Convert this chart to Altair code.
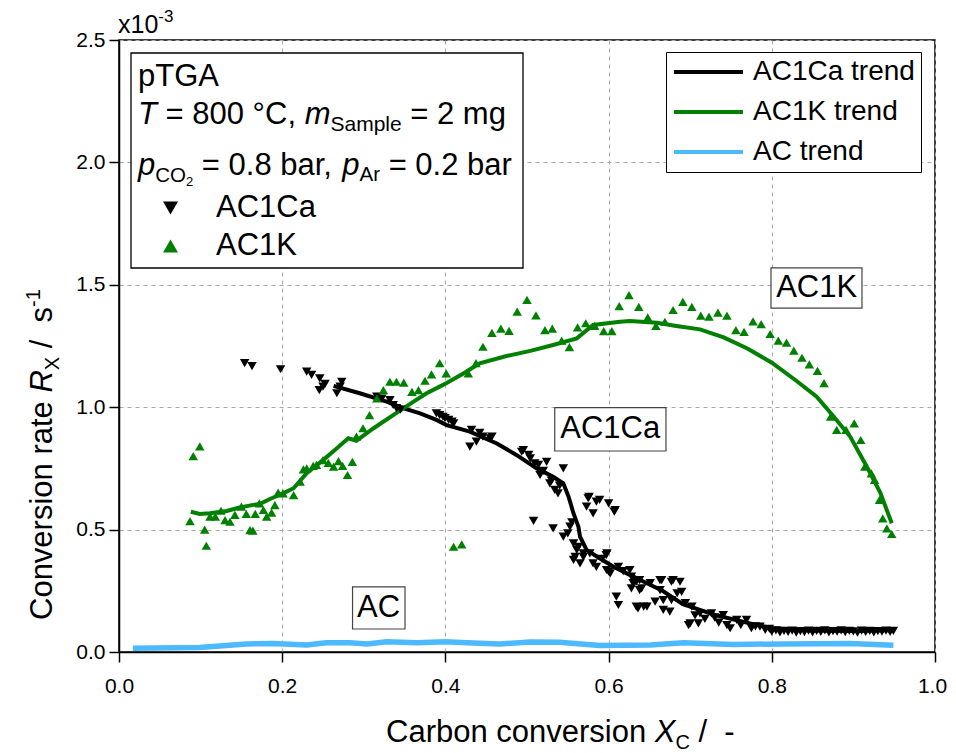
import altair as alt
import pandas as pd

# ---------------- data ----------------
k_x = [0.087, 0.091, 0.099, 0.105, 0.107, 0.1115, 0.118, 0.125, 0.130, 0.136, 0.142, 0.150, 0.156, 0.1605,
       0.164, 0.167, 0.172, 0.177, 0.181, 0.187, 0.191, 0.195, 0.201, 0.214, 0.222, 0.226, 0.230, 0.238,
       0.242, 0.250, 0.2565, 0.263, 0.269, 0.274, 0.280, 0.286, 0.291, 0.299, 0.307, 0.316, 0.324, 0.332,
       0.340, 0.349, 0.359, 0.367, 0.375, 0.383, 0.393, 0.401, 0.410, 0.420, 0.428, 0.4375, 0.446, 0.457,
       0.468, 0.478, 0.488, 0.500, 0.511, 0.522, 0.531, 0.5425, 0.552, 0.562, 0.572, 0.583, 0.594, 0.604,
       0.613, 0.625, 0.637, 0.648, 0.658, 0.669, 0.679, 0.691, 0.702, 0.713, 0.723, 0.734, 0.745, 0.756,
       0.766, 0.777, 0.787, 0.798, 0.808, 0.818, 0.827, 0.837, 0.846, 0.856, 0.864, 0.872, 0.8795, 0.891,
       0.901, 0.909, 0.914, 0.922, 0.926, 0.932, 0.936, 0.941, 0.947]
k_y = [0.535, 0.800, 0.840, 0.500, 0.434, 0.553, 0.553, 0.577, 0.539, 0.532, 0.560, 0.594, 0.564, 0.498,
       0.496, 0.564, 0.607, 0.580, 0.553, 0.569, 0.600, 0.651, 0.648, 0.641, 0.696, 0.746, 0.750, 0.760,
       0.764, 0.784, 0.773, 0.757, 0.780, 0.760, 0.723, 0.777, 0.880, 0.914, 0.968, 1.036, 1.070, 1.104,
       1.104, 1.100, 1.063, 1.070, 1.108, 1.134, 1.180, 1.138, 0.430, 0.440, 1.138, 1.180, 1.247, 1.304,
       1.321, 1.312, 1.390, 1.438, 1.375, 1.315, 1.321, 1.272, 1.245, 1.326, 1.343, 1.332, 1.311, 1.311,
       1.413, 1.458, 1.410, 1.367, 1.332, 1.349, 1.397, 1.430, 1.410, 1.374, 1.370, 1.386, 1.374, 1.315,
       1.308, 1.351, 1.339, 1.299, 1.272, 1.264, 1.231, 1.202, 1.175, 1.148, 1.098, 0.961, 0.907, 0.907,
       0.934, 0.866, 0.757, 0.730, 0.703, 0.621, 0.546, 0.505, 0.482]

ca_x = [0.154, 0.163, 0.198, 0.230, 0.236, 0.2455, 0.246, 0.250, 0.2525, 0.267, 0.271, 0.273, 0.316, 0.322,
        0.332, 0.336, 0.340, 0.345, 0.389, 0.393, 0.397, 0.3995, 0.404, 0.408, 0.410, 0.430, 0.432, 0.438,
        0.442, 0.446, 0.455, 0.457, 0.4935, 0.4955, 0.502, 0.504, 0.508, 0.5095, 0.514, 0.516, 0.520, 0.524,
        0.528, 0.530, 0.532, 0.534, 0.538, 0.540, 0.5445, 0.5445, 0.550, 0.5527, 0.555, 0.557, 0.557, 0.559,
        0.561, 0.563, 0.565, 0.569, 0.569, 0.573, 0.575, 0.576, 0.577, 0.581, 0.581, 0.585, 0.585, 0.589,
        0.592, 0.597, 0.5975, 0.598, 0.600, 0.600, 0.602, 0.607, 0.608, 0.6095, 0.612, 0.612, 0.618, 0.626,
        0.628, 0.628, 0.630, 0.634, 0.634, 0.636, 0.638, 0.638, 0.6405, 0.643, 0.647, 0.651, 0.657, 0.663,
        0.663, 0.665, 0.667, 0.667, 0.675, 0.677, 0.677, 0.679, 0.684, 0.6875, 0.6895, 0.694, 0.698, 0.700,
        0.702, 0.706, 0.710, 0.712, 0.718, 0.726, 0.730, 0.735, 0.7405, 0.745, 0.749, 0.757, 0.762, 0.769,
        0.775, 0.780, 0.7855, 0.792, 0.797, 0.800, 0.805, 0.810, 0.815, 0.820, 0.825, 0.830, 0.835, 0.840,
        0.845, 0.850, 0.855, 0.860, 0.865, 0.870, 0.875, 0.880, 0.885, 0.890, 0.895, 0.900, 0.905, 0.910,
        0.915, 0.920, 0.925, 0.930, 0.935, 0.940, 0.945, 0.949]
ca_y = [1.180, 1.168, 1.155, 1.145, 1.132, 1.070, 1.118, 1.084, 1.095, 1.057, 1.084, 1.104, 1.043, 1.035,
        1.029, 1.009, 0.996, 0.990, 0.975, 0.968, 0.961, 0.955, 0.948, 0.941, 0.934, 0.839, 0.907, 0.859,
        0.895, 0.880, 0.873, 0.880, 0.818, 0.825, 0.805, 0.791, 0.536, 0.771, 0.764, 0.723, 0.740, 0.777,
        0.689, 0.700, 0.505, 0.662, 0.648, 0.680, 0.750, 0.471, 0.485, 0.512, 0.530, 0.444, 0.376, 0.389,
        0.417, 0.430, 0.362, 0.403, 0.389, 0.594, 0.628, 0.634, 0.403, 0.566, 0.362, 0.348, 0.614, 0.621,
        0.380, 0.396, 0.335, 0.403, 0.607, 0.328, 0.321, 0.573, 0.580, 0.226, 0.348, 0.192, 0.330, 0.335,
        0.308, 0.260, 0.281, 0.287, 0.185, 0.178, 0.253, 0.294, 0.260, 0.185, 0.185, 0.281, 0.206, 0.294,
        0.253, 0.294, 0.212, 0.172, 0.165, 0.287, 0.212, 0.294, 0.240, 0.287, 0.246, 0.200, 0.110, 0.117,
        0.185, 0.150, 0.117, 0.158, 0.135, 0.158, 0.140, 0.120, 0.151, 0.110, 0.097, 0.131, 0.110, 0.131,
        0.097, 0.105, 0.104, 0.090, 0.095, 0.083, 0.088, 0.080, 0.086, 0.082, 0.087, 0.079, 0.085, 0.081,
        0.087, 0.080, 0.086, 0.082, 0.088, 0.080, 0.085, 0.083, 0.088, 0.081, 0.086, 0.084, 0.079, 0.087,
        0.082, 0.086, 0.080, 0.085, 0.083, 0.087, 0.082, 0.086]

ca_trend_x = [0.263, 0.295, 0.328, 0.348, 0.369, 0.389, 0.4015, 0.430, 0.463, 0.487, 0.512, 0.532, 0.5445,
              0.551, 0.557, 0.563, 0.565, 0.573, 0.589, 0.606, 0.626, 0.647, 0.666, 0.691, 0.732, 0.773,
              0.800, 0.850, 0.900, 0.949]
ca_trend_y = [1.087, 1.057, 1.023, 0.996, 0.975, 0.948, 0.927, 0.900, 0.852, 0.805, 0.750, 0.716, 0.689,
              0.634, 0.566, 0.512, 0.471, 0.417, 0.383, 0.348, 0.315, 0.281, 0.250, 0.195, 0.150, 0.117,
              0.097, 0.088, 0.086, 0.090]

k_trend_x = [0.088, 0.099, 0.1115, 0.132, 0.148, 0.163, 0.173, 0.185, 0.201, 0.214, 0.230, 0.250, 0.267,
             0.281, 0.291, 0.312, 0.336, 0.361, 0.377, 0.393, 0.401, 0.422, 0.442, 0.475, 0.504, 0.532,
             0.561, 0.581, 0.614, 0.626, 0.659, 0.683, 0.712, 0.741, 0.770, 0.800, 0.830, 0.855, 0.875,
             0.896, 0.916, 0.933, 0.947]
k_trend_y = [0.573, 0.564, 0.567, 0.576, 0.590, 0.600, 0.605, 0.625, 0.648, 0.669, 0.730, 0.784, 0.832,
             0.873, 0.863, 0.914, 0.968, 1.023, 1.057, 1.084, 1.098, 1.138, 1.179, 1.209, 1.230, 1.254,
             1.281, 1.336, 1.349, 1.352, 1.345, 1.332, 1.318, 1.285, 1.240, 1.182, 1.108, 1.043, 0.965,
             0.880, 0.760, 0.650, 0.526]

ac_trend_x = [0.017, 0.099, 0.156, 0.189, 0.230, 0.254, 0.283, 0.304, 0.328, 0.365, 0.400, 0.426, 0.467,
              0.504, 0.540, 0.589, 0.651, 0.692, 0.753, 0.814, 0.896, 0.949]
ac_trend_y = [0.015, 0.018, 0.033, 0.035, 0.029, 0.038, 0.038, 0.033, 0.042, 0.038, 0.042, 0.038, 0.033,
              0.041, 0.040, 0.027, 0.029, 0.038, 0.031, 0.033, 0.035, 0.028]

series_names = ["AC1Ca trend", "AC1K trend", "AC trend"]
sample_names = ["AC1Ca", "AC1K"]
x_ticks = [0.0, 0.2, 0.4, 0.6, 0.8, 1.0]
y_ticks = [0.0, 0.5, 1.0, 1.5, 2.0, 2.5]

label_text = ["AC1K", "AC1Ca", "AC"]
label_x = [0.855, 0.602, 0.318]
label_y = [1.487, 0.910, 0.180]
label_x1 = [0.799, 0.534, 0.2862]
label_x2 = [0.9105, 0.6703, 0.3505]
label_y1 = [1.405, 0.821, 0.094]
label_y2 = [1.569, 0.998, 0.266]

# ---------------- styling ----------------
FONT = "Liberation Sans"
W, H = 816, 612
OX, OY = 119, 40  # page position of plot area
GREEN = "#008000"
BLUE = "#4DB9FF"

AW = {' ': 278, '-': 333, '.': 278, '/': 278, '=': 584, '°': 400, ',': 278,
      'A': 667, 'C': 722, 'G': 778, 'K': 667, 'O': 778, 'R': 722, 'S': 667, 'T': 611, 'X': 667,
      'a': 556, 'b': 556, 'c': 500, 'd': 556, 'e': 556, 'g': 556, 'i': 222, 'l': 222, 'm': 833,
      'n': 556, 'o': 556, 'p': 556, 'r': 333, 's': 500, 't': 278, 'v': 500, 'x': 500}


def tw(s, size):
    return sum(AW.get(c, 556) for c in s) * size / 1000.0


def txt(s, x, y, size, italic=False, angle=0, align="left", baseline="alphabetic"):
    kw = dict(text=s, font=FONT, fontSize=size,
              fontStyle="italic" if italic else "normal",
              align=align, baseline=baseline, color="black")
    if angle:
        kw["angle"] = angle
    return alt.Chart(alt.Data(values=[{}])).mark_text(**kw).encode(
        x=alt.value(x - OX), y=alt.value(y - OY))


def run(pieces, x0, y0, rotate=False):
    """Lay out rich-text pieces word by word, so every blank keeps its width."""
    out = []
    pos = 0.0
    for s, size, italic, shift in pieces:
        word = ""
        for ch in s + " ":
            if ch == " ":
                if word:
                    if rotate:
                        out.append(txt(word, x0 + shift, y0 - pos, size, italic, angle=270))
                    else:
                        out.append(txt(word, x0 + pos, y0 + shift, size, italic))
                    pos += tw(word, size)
                    word = ""
                pos += tw(" ", size)
            else:
                word += ch
        pos -= tw(" ", size)
    return out


xs = alt.Scale(domain=[0, 1], nice=False, zero=False)
ys = alt.Scale(domain=[0, 2.5], nice=False, zero=False)

x_axis = alt.Axis(values=x_ticks, format=".1f", title=None, labelPadding=13,
                  labelOffset={"condition": {"test": "datum.value == 1", "value": -3}, "value": 0})
y_axis = alt.Axis(values=y_ticks, format=".1f", title=None, labelPadding=4)


def X(field):
    return alt.X(field, scale=xs, axis=x_axis)


def Y(field):
    return alt.Y(field, scale=ys, axis=y_axis)


# ---------------- data frames ----------------
pts = pd.concat([
    pd.DataFrame({"x": ca_x, "y": ca_y, "sample": sample_names[0]}),
    pd.DataFrame({"x": k_x, "y": k_y, "sample": sample_names[1]}),
], ignore_index=True)

trend_main = pd.concat([
    pd.DataFrame({"x": ca_trend_x, "y": ca_trend_y, "series": series_names[0]}),
    pd.DataFrame({"x": k_trend_x, "y": k_trend_y, "series": series_names[1]}),
], ignore_index=True)
trend_main["o"] = range(len(trend_main))
trend_ac = pd.DataFrame({"x": ac_trend_x, "y": ac_trend_y, "series": series_names[2]})
trend_ac["o"] = range(len(trend_ac))

labels = pd.DataFrame({"t": label_text, "x": label_x, "y": label_y, "x1": label_x1, "x2": label_x2,
                       "y1": label_y1, "y2": label_y2})

stroke_scale = alt.Scale(domain=series_names, range=["#000000", GREEN, BLUE])
line_legend = alt.Legend(title=None, orient="none", legendX=547, legendY=12, padding=6,
                         strokeColor="black", fillColor="white", cornerRadius=0,
                         labelFont=FONT, labelFontSize=28, labelColor="black", labelOffset=8,
                         symbolType="stroke", symbolSize=4761, symbolStrokeWidth=4, clipHeight=28,
                         rowPadding=12, labelLimit=400)

fill_scale = alt.Scale(domain=sample_names, range=["#000000", GREEN])
shape_scale = alt.Scale(domain=sample_names, range=["triangle-down", "triangle-up"])
pt_legend = alt.Legend(title=None, orient="none", legendX=36, legendY=153, padding=0,
                       labelFont=FONT, labelFontSize=31, labelColor="black", labelOffset=30,
                       symbolSize=225, symbolStrokeWidth=0, clipHeight=30, rowPadding=7,
                       symbolOpacity=1, labelLimit=400)

# ---------------- layers ----------------
box = alt.Chart(alt.Data(values=[{}])).mark_rect(fill="white", stroke="black", strokeWidth=1.3).encode(
    x=alt.value(131 - OX), x2=alt.value(523 - OX), y=alt.value(53 - OY), y2=alt.value(268 - OY))

lab_rect = alt.Chart(labels).mark_rect(fill="white", stroke="#444444", strokeWidth=1.2).encode(
    x=X("x1:Q"), x2="x2:Q", y=Y("y1:Q"), y2="y2:Q")
lab_text = alt.Chart(labels).mark_text(font=FONT, fontSize=31, color="black", baseline="middle",
                                       align="center").encode(
    x=X("x:Q"), y=Y("y:Q"), text="t:N")

lines = alt.Chart(trend_main).mark_line(strokeWidth=4).encode(
    x=X("x:Q"), y=Y("y:Q"), order="o:Q",
    stroke=alt.Stroke("series:N", scale=stroke_scale, legend=line_legend))
ac_line = alt.Chart(trend_ac).mark_line(strokeWidth=5.5).encode(
    x=X("x:Q"), y=Y("y:Q"), order="o:Q",
    stroke=alt.Stroke("series:N", scale=stroke_scale, legend=line_legend))

points = alt.Chart(pts).mark_point(filled=True, size=90, opacity=1, strokeWidth=0).encode(
    x=X("x:Q"), y=Y("y:Q"),
    fill=alt.Fill("sample:N", scale=fill_scale, legend=pt_legend),
    shape=alt.Shape("sample:N", scale=shape_scale, legend=pt_legend))

texts = []
# box text
texts += run([("pTGA", 31, False, 0)], 138, 85.5)
texts += run([("T", 31, True, 0), (" = 800 °C, ", 31, False, 0), ("m", 31, True, 0),
              ("Sample", 21, False, 7), (" = 2 mg", 31, False, 0)], 138, 123.5)
texts += run([("p", 31, True, 0), ("CO", 20.5, False, 7), ("2", 13, False, 11),
              (" = 0.8 bar, ", 31, False, 0), ("p", 31, True, 0), ("Ar", 20.5, False, 6),
              (" = 0.2 bar", 31, False, 0)], 138, 175)
# x10^-3
texts += run([("x10", 25, False, 0), ("-3", 17, False, -11)], 118, 33)
# x title
texts += run([("Carbon conversion ", 31, False, 0), ("X", 31, True, 0), ("C", 20, False, 7),
              (" /  -", 31, False, 0)], 386, 742)
# y title
texts += run([("Conversion rate ", 31, False, 0), ("R", 31, True, 0), ("X", 20, False, 7),
              (" /  s", 31, False, 0), ("-1", 20, False, -12)], 52, 620, rotate=True)

chart = alt.layer(lab_rect, box, lab_text, ac_line, lines, points, *texts).properties(
    width=W, height=H,
    autosize=alt.AutoSizeParams(type="none"),
    padding={"left": OX - 8, "top": OY - 8, "right": 13, "bottom": 105},
).resolve_scale(x="shared", y="shared").configure(
    background="white", font=FONT
).configure_view(
    stroke="black", strokeWidth=1.5
).configure_axis(
    labelFontSize=21, labelFont=FONT, labelColor="black", tickSize=10, tickWidth=1.5,
    tickColor="black", domainColor="black", domainWidth=1.5, grid=True, gridDash=[4, 4],
    gridColor="#a8a8a8", gridWidth=1, labelFlush=False, labelOverlap=False
)

chart.save("out.html", embed_options={"renderer": "svg", "actions": False})
